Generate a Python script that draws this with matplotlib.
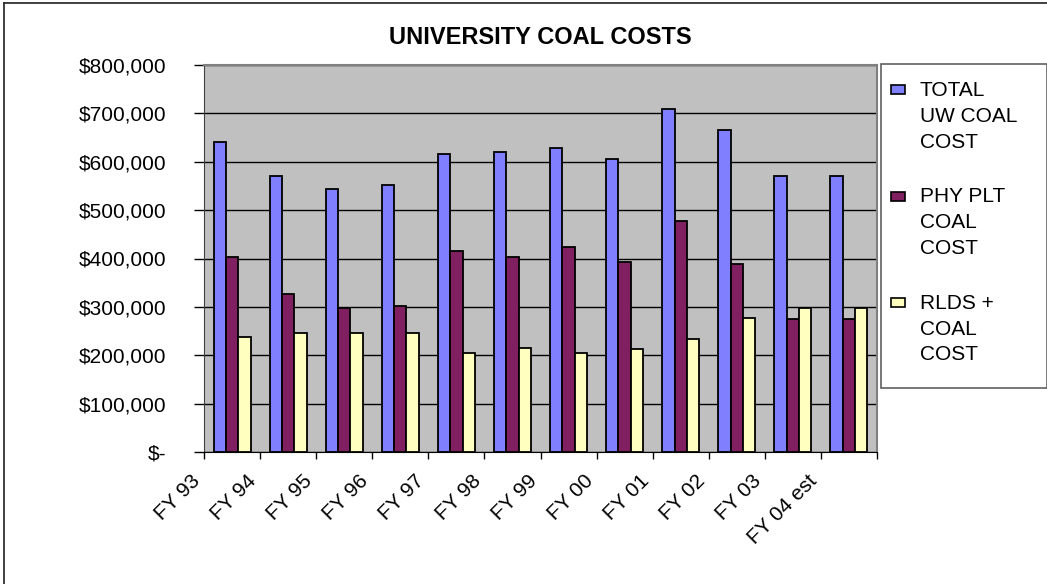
import matplotlib.pyplot as plt
from matplotlib.patches import Rectangle
from matplotlib.lines import Line2D
from matplotlib.ticker import FuncFormatter
import numpy as np

plt.rcParams['font.family'] = ['Liberation Sans', 'DejaVu Sans']

# fiscal years and yearly coal costs in dollars
years = ['FY 93', 'FY 94', 'FY 95', 'FY 96', 'FY 97', 'FY 98', 'FY 99',
         'FY 00', 'FY 01', 'FY 02', 'FY 03', 'FY 04 est']
total_uw = [641000, 571000, 543000, 551000, 616000, 621000, 629000,
            605000, 710000, 665000, 571000, 571000]
phy_plt = [403000, 326000, 298000, 301000, 416000, 403000, 424000,
           392000, 477000, 388000, 274000, 274000]
rlds = [237000, 245000, 245000, 245000, 204000, 216000, 204000,
        212000, 233000, 277000, 298000, 298000]

series = [total_uw, phy_plt, rlds]
names = ['TOTAL\nUW COAL\nCOST', 'PHY PLT\nCOAL\nCOST', 'RLDS +\nCOAL\nCOST']
colors = ['#8080FF', '#802060', '#FFFFC0']

W, H = 1047, 584
fig = plt.figure(figsize=(W / 100, H / 100), dpi=100)

def px(x, y):
    return x / W, 1 - y / H

# chart border
fig.add_artist(Line2D([4 / W, 4 / W], [0, 1 - 3 / H], color='#202020', lw=1.2))
fig.add_artist(Line2D([4 / W, 1], [1 - 3 / H, 1 - 3 / H], color='#202020', lw=1.2))

ax = fig.add_axes([204 / W, 1 - 452 / H, 673 / W, 387 / H])
ax.set_facecolor('#C0C0C0')

x = np.arange(len(years))
bw = 0.22
for k, vals in enumerate(series):
    ax.bar(x + (k - 1) * bw, vals, width=bw, color=colors[k],
           edgecolor='black', linewidth=1.3, zorder=3)

ax.set_xlim(-0.5, len(years) - 0.5)
ax.set_ylim(0, 800000)
ax.set_yticks(np.arange(0, 800001, 100000))
ax.yaxis.set_major_formatter(FuncFormatter(
    lambda v, p: '$-' if v == 0 else '${:,.0f}'.format(v)))
ax.grid(axis='y', color='black', linewidth=1.0, zorder=1)
ax.tick_params(axis='y', length=7, width=1, labelsize=15, pad=20)

# tick marks between categories, labels hung from the left boundary
ax.set_xticks(x - 0.5)
ax.set_xticks([len(years) - 0.5], minor=True)
ax.set_xticklabels(years, rotation=45, ha='right', va='top',
                   rotation_mode='default', fontsize=15)
ax.tick_params(axis='x', which='both', length=5, width=1, pad=9)

for side in ['top', 'right']:
    ax.spines[side].set_color('#808080')
    ax.spines[side].set_linewidth(1.5)
ax.spines['left'].set_color('#404040')
ax.spines['bottom'].set_color('black')

fig.text(540 / W, 1 - 38 / H, 'UNIVERSITY COAL COSTS', ha='center',
         va='center', fontsize=17, fontweight='bold')

# legend box
lx0, ly0 = px(881, 388)
fig.add_artist(Rectangle((lx0, ly0), 1 - lx0, (388 - 64) / H,
                         transform=fig.transFigure, facecolor='white',
                         edgecolor='#606060', lw=1.2))
for k, name in enumerate(names):
    ty = 90 + k * 106.5
    fig.add_artist(Rectangle(px(891, ty + 4), 14 / W, 9 / H,
                             transform=fig.transFigure, facecolor=colors[k],
                             edgecolor='black', lw=1.2))
    fig.text(920 / W, 1 - (ty - 9) / H, name, ha='left', va='top',
             fontsize=15, linespacing=1.45)

fig.savefig('out.png', dpi=100)
